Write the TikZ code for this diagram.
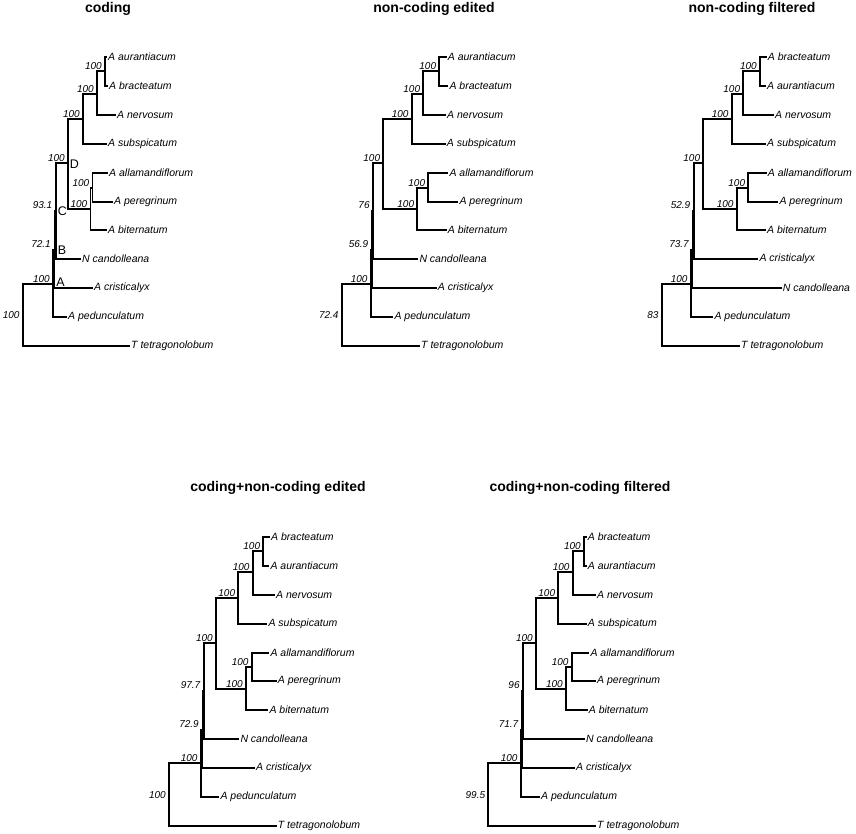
\documentclass[tikz,border=0pt]{standalone}
\usepackage{fontspec}
\setmainfont{Liberation Sans}
\usetikzlibrary{positioning}

\begin{document}
\begin{tikzpicture}[x=1pt,y=-1pt,
  branch/.style={line width=1.8pt},
  taxon/.style={anchor=west,inner sep=1pt,font=\fontsize{10.5}{12}\selectfont\itshape},
  num/.style={inner sep=0pt,font=\fontsize{10}{11}\selectfont\itshape},
  support/.style={num,anchor=south east,xshift=-3pt,yshift=1.5pt},
  weak/.style={num,anchor=east,xshift=-3.5pt,yshift=5.5pt},
  rootval/.style={num,anchor=east,xshift=-3pt},
  clade/.style={font=\fontsize{12.5}{14}\selectfont},
  panel/.style={anchor=base,font=\fontsize{14}{16}\selectfont\bfseries}]
  \useasboundingbox (0,0) rectangle (856,834);

  \node[panel] (a-title) at (108,13) {coding};
  \node[panel] (b-title) at (434,13) {non-coding edited};
  \node[panel] (c-title) at (752,13) {non-coding filtered};
  \node[panel] (d-title) at (278,491) {coding+non-coding edited};
  \node[panel] (e-title) at (580,491) {coding+non-coding filtered};

  % coding
  \foreach \n/\x/\y in {root/22.7/315,A/53/284,B/54.5/250,C/56/211,D/68/163,E/83/119,F/97/94,G/105/71,H/90.5/209,I/92.5/188}
    \coordinate (a-\n) at (\x,\y);
  \foreach \n/\x/\y/\s in {aur/107/57/A aurantiacum,bra/108/86/A bracteatum,ner/116/115/A nervosum,sub/107/144/A subspicatum,all/108/173/A allamandiflorum,per/113/202/A peregrinum,bit/107/230/A biternatum,ncand/81/259/N candolleana,cris/93/288/A cristicalyx,ped/67/317/A pedunculatum,tet/130/346/T tetragonolobum}
    \node[taxon] (a-\n) at (\x,\y) {\s};
  \node[rootval] (a-rv) at (a-root) {100};
  \node[weak] (a-cv) at (a-C) {93.1};
  \node[weak] (a-bv) at (a-B) {72.1};
  \node[clade] (a-Dl) at (74.5,164) {D};
  \node[clade] (a-Cl) at (62.5,211) {C};
  \node[clade] (a-Bl) at (62,250) {B};
  \node[clade] (a-Al) at (60.5,282) {A};

  % non-coding edited
  \foreach \n/\x/\y in {root/341.7/315,A/370.7/284,B/372/250,C/373.3/211,D/383.3/163,E/411.7/119,F/423.3/94,G/439.3/71,H/417.3/209,I/428.3/188}
    \coordinate (b-\n) at (\x,\y);
  \foreach \n/\x/\y/\s in {aur/446.7/57/A aurantiacum,bra/448.3/86/A bracteatum,ner/446/115/A nervosum,sub/445.7/144/A subspicatum,all/448.3/173/A allamandiflorum,per/458.3/202/A peregrinum,bit/446.7/230/A biternatum,ncand/418.3/259/N candolleana,cris/436.7/288/A cristicalyx,ped/393.3/317/A pedunculatum,tet/420/346/T tetragonolobum}
    \node[taxon] (b-\n) at (\x,\y) {\s};
  \node[rootval] (b-rv) at (b-root) {72.4};
  \node[weak] (b-cv) at (b-C) {76};
  \node[weak] (b-bv) at (b-B) {56.9};

  % non-coding filtered
  \foreach \n/\x/\y in {root/661.7/315,A/690.7/284,B/692.5/250,C/694/211,D/703.3/163,E/731.7/119,F/743.3/94,G/760/71,H/736.7/209,I/748.3/188}
    \coordinate (c-\n) at (\x,\y);
  \foreach \n/\x/\y/\s in {bra/766.7/57/A bracteatum,aur/766/86/A aurantiacum,ner/774/115/A nervosum,sub/766/144/A subspicatum,all/766.7/173/A allamandiflorum,per/778.3/202/A peregrinum,bit/766/230/A biternatum,cris/758.3/259/A cristicalyx,ncand/781.7/288/N candolleana,ped/713.3/317/A pedunculatum,tet/740/346/T tetragonolobum}
    \node[taxon] (c-\n) at (\x,\y) {\s};
  \node[rootval] (c-rv) at (c-root) {83};
  \node[weak] (c-cv) at (c-C) {52.9};
  \node[weak] (c-bv) at (c-B) {73.7};

  % coding+non-coding edited
  \foreach \n/\x/\y in {root/169/795,A/200.7/763,B/202.5/730,C/204/691,D/216/643,E/238.3/598,F/252.7/572,G/263.3/551,H/246/689,I/251.7/667}
    \coordinate (d-\n) at (\x,\y);
  \foreach \n/\x/\y/\s in {bra/270/537/A bracteatum,aur/269.3/566/A aurantiacum,ner/275/595/A nervosum,sub/267.3/624/A subspicatum,all/269.3/653/A allamandiflorum,per/276.7/681/A peregrinum,bit/268.3/710/A biternatum,ncand/239.3/739/N candolleana,cris/255/768/A cristicalyx,ped/219.3/797/A pedunculatum,tet/276.7/826/T tetragonolobum}
    \node[taxon] (d-\n) at (\x,\y) {\s};
  \node[rootval] (d-rv) at (d-root) {100};
  \node[weak] (d-cv) at (d-C) {97.7};
  \node[weak] (d-bv) at (d-B) {72.9};

  % coding+non-coding filtered
  \foreach \n/\x/\y in {root/488.3/795,A/520.7/763,B/522/730,C/523.3/691,D/536/643,E/558.3/598,F/572.7/572,G/584/551,H/566/689,I/571.7/667}
    \coordinate (e-\n) at (\x,\y);
  \foreach \n/\x/\y/\s in {bra/586.7/537/A bracteatum,aur/586.7/566/A aurantiacum,ner/596/595/A nervosum,sub/586.7/624/A subspicatum,all/589.3/653/A allamandiflorum,per/596/681/A peregrinum,bit/587.7/710/A biternatum,ncand/585/739/N candolleana,cris/575/768/A cristicalyx,ped/540/797/A pedunculatum,tet/596/826/T tetragonolobum}
    \node[taxon] (e-\n) at (\x,\y) {\s};
  \node[rootval] (e-rv) at (e-root) {99.5};
  \node[weak] (e-cv) at (e-C) {96};
  \node[weak] (e-bv) at (e-B) {71.7};

  \foreach \t in {a,b,c,d,e}
    \foreach \n in {A,D,E,F,G,H,I}
      \node[support] (\t-\n-sv) at (\t-\n) {100};

  \foreach \t in {a,b,d,e}
    \foreach \p/\c in {root/A,root/tet,A/B,A/ped,B/C,B/cris,C/D,C/ncand,D/E,D/H,E/F,E/sub,F/G,F/ner,G/aur,G/bra,H/I,H/bit,I/all,I/per}
      \draw[branch] (\t-\p) |- (\t-\c);
  \foreach \p/\c in {root/A,root/tet,A/B,A/ped,B/C,B/ncand,C/D,C/cris,D/E,D/H,E/F,E/sub,F/G,F/ner,G/bra,G/aur,H/I,H/bit,I/all,I/per}
    \draw[branch] (c-\p) |- (c-\c);
\end{tikzpicture}
\end{document}
